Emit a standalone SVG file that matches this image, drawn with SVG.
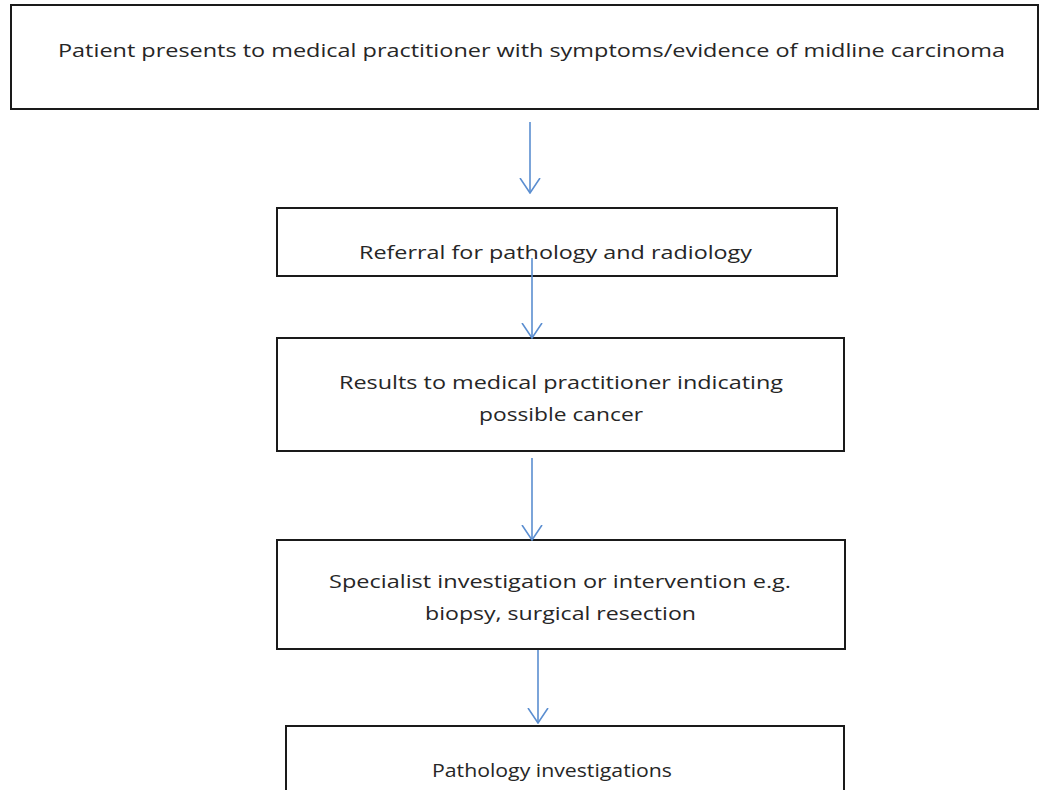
<svg xmlns="http://www.w3.org/2000/svg" width="1039" height="790" viewBox="0 0 1039 790">
<defs>
<style>
.box{fill:#fff;stroke:#1a1a1a;stroke-width:2}
.t{font-family:"Open Sans","Noto Sans","DejaVu Sans",sans-serif;font-size:18px;fill:#262626;text-anchor:middle}
.c{stroke:#5b8ed0;stroke-width:1.6;fill:none}
</style>
<marker id="ah" viewBox="0 0 16 22" refX="15" refY="11" markerWidth="16" markerHeight="22" markerUnits="userSpaceOnUse" orient="auto">
<path d="M0,1 L15,11 L0,21" fill="none" stroke="#5b8ed0" stroke-width="1.6"/>
</marker>
</defs>
<rect width="1039" height="790" fill="#fff"/>
<g id="n1"><rect class="box" x="11" y="5" width="1027" height="104"/>
<text class="t" x="531.5" y="57" textLength="947" lengthAdjust="spacingAndGlyphs">Patient presents to medical practitioner with symptoms/evidence of midline carcinoma</text></g>
<g id="n2"><rect class="box" x="277" y="208" width="560" height="68"/>
<text class="t" x="555.5" y="259" textLength="393" lengthAdjust="spacingAndGlyphs">Referral for pathology and radiology</text></g>
<g id="n3"><rect class="box" x="277" y="338" width="567" height="113"/>
<text class="t" x="561" y="389" textLength="444" lengthAdjust="spacingAndGlyphs">Results to medical practitioner indicating</text>
<text class="t" x="561" y="421" textLength="164" lengthAdjust="spacingAndGlyphs">possible cancer</text></g>
<g id="n4"><rect class="box" x="277" y="540" width="568" height="109"/>
<text class="t" x="560" y="588" textLength="462" lengthAdjust="spacingAndGlyphs">Specialist investigation or intervention e.g.</text>
<text class="t" x="560.5" y="620" textLength="271" lengthAdjust="spacingAndGlyphs">biopsy, surgical resection</text></g>
<g id="n5"><rect class="box" x="286" y="726" width="558" height="80"/>
<text class="t" x="552" y="777" textLength="240" lengthAdjust="spacingAndGlyphs">Pathology investigations</text></g>
<g id="connectors">
<line class="c" x1="530" y1="122" x2="530" y2="193" marker-end="url(#ah)"/>
<line class="c" x1="532" y1="258" x2="532" y2="338" marker-end="url(#ah)"/>
<line class="c" x1="532" y1="458" x2="532" y2="540" marker-end="url(#ah)"/>
<line class="c" x1="538" y1="650" x2="538" y2="723" marker-end="url(#ah)"/>
</g>
</svg>
